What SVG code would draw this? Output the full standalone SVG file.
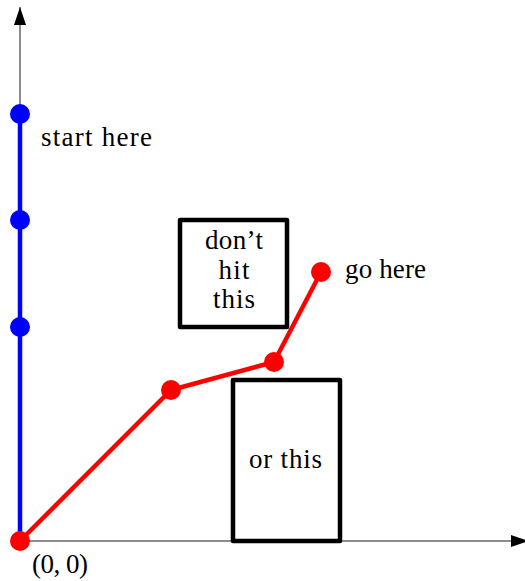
<svg xmlns="http://www.w3.org/2000/svg" width="525" height="581" viewBox="0 0 525 581">
<style>
text{font-family:"Liberation Serif","DejaVu Serif",serif;font-size:27px;fill:#000}
.axis{stroke:#666;stroke-width:1.5;fill:none}
.box{fill:#fff;stroke:#000;stroke-width:4.5;stroke-linejoin:round}
</style>
<defs>
<marker id="ah" viewBox="0 0 18 12" refX="18" refY="6" markerWidth="18" markerHeight="12" markerUnits="userSpaceOnUse" orient="auto">
<path d="M0,0 L18,6 L0,12 Z" fill="#000"/>
</marker>
</defs>
<g id="axes">
<line class="axis" x1="20" y1="541" x2="20" y2="7" marker-end="url(#ah)"/>
<line class="axis" x1="20" y1="541" x2="529" y2="541" marker-end="url(#ah)"/>
</g>
<g id="box1"><rect class="box" x="180" y="220" width="107" height="107"/>
<text x="234" y="249" text-anchor="middle" textLength="58" lengthAdjust="spacing">don’t</text>
<text x="234" y="279" text-anchor="middle" textLength="31" lengthAdjust="spacing">hit</text>
<text x="234" y="308" text-anchor="middle" textLength="42" lengthAdjust="spacing">this</text></g>
<g id="box2"><rect class="box" x="233" y="380" width="107" height="161"/>
<text x="249" y="468" textLength="73" lengthAdjust="spacing">or this</text></g>
<g id="connectors">
<polyline points="20,541 20,114" fill="none" stroke="#0000ff" stroke-width="4.5"/>
<polyline points="20,541 171,390 274,362 321,272" fill="none" stroke="#ff0000" stroke-width="4.5" stroke-linejoin="round"/>
</g>
<g id="blue-points" fill="#0000ff">
<circle cx="20" cy="114" r="10"/>
<circle cx="20" cy="220" r="10"/>
<circle cx="20" cy="327" r="10"/>
</g>
<g id="red-points" fill="#ff0000">
<circle cx="20" cy="541" r="10"/>
<circle cx="171" cy="390" r="10"/>
<circle cx="274" cy="362" r="10"/>
<circle cx="321" cy="272" r="10"/>
</g>
<g id="labels">
<text x="41" y="146" textLength="111" lengthAdjust="spacing">start here</text>
<text x="345" y="278" textLength="81" lengthAdjust="spacing">go here</text>
<text x="32" y="573" textLength="56" lengthAdjust="spacing">(0, 0)</text>
</g>
</svg>
